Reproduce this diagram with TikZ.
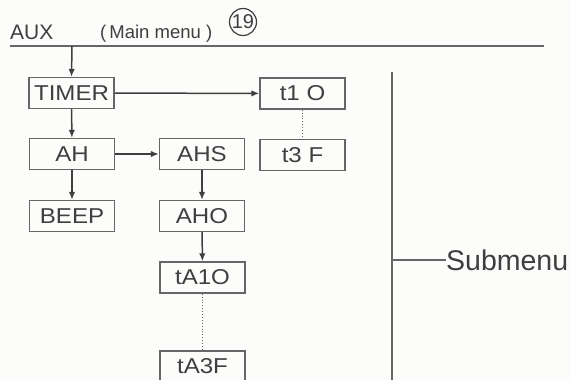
\documentclass[tikz,border=0pt]{standalone}
\usepackage{fontspec}
\setmainfont{Liberation Sans}
\newfontfamily\boxfont[FakeStretch=1.12]{Liberation Sans}
\usetikzlibrary{arrows.meta}
\definecolor{linegray}{HTML}{666666}
\definecolor{txtgray}{HTML}{3F3F3F}
\definecolor{bg}{HTML}{FCFCFA}
\tikzset{
  menubox/.style={draw=linegray, line width=1.4pt, minimum width=85pt, minimum height=31pt, inner sep=0pt, text=txtgray, font=\boxfont\fontsize{21.5}{21.5}\selectfont},
  conn/.style={draw=txtgray, line width=1.5pt, -{Latex[length=8pt,width=6.5pt]}},
  dotconn/.style={draw=linegray, line width=0.9pt, dotted},
  rule/.style={draw=linegray, line width=2.2pt},
  lbl/.style={text=txtgray, inner sep=0pt}
}
\begin{document}
\begin{tikzpicture}[x=1pt,y=-1pt]
\fill[bg] (0,0) rectangle (571,380);
\useasboundingbox (0,0) rectangle (571,380);
% header
\node[lbl, anchor=base west, font=\fontsize{21}{21}\selectfont] (aux) at (10,39) {AUX};
\node[lbl, anchor=base west, font=\fontsize{18.5}{18.5}\selectfont] (mm) at (100,38) {(\,Main menu )};
\node[lbl, draw=txtgray, line width=1.2pt, circle, minimum size=27pt, font=\fontsize{20}{20}\selectfont] (num) at (243,22) {19};
\coordinate (hl) at (10,46);
\coordinate (hr) at (544,46);
\draw[rule] (hl) -- (hr);
\coordinate (tap) at (72,46);
% boxes
\node[menubox] (timer) at (71.5,93) {TIMER};
\node[menubox] (ah) at (72,154) {AH};
\node[menubox] (beep) at (72,216) {BEEP};
\node[menubox] (ahs) at (202,154) {AHS};
\node[menubox] (aho) at (202,216) {AHO};
\node[menubox] (ta1o) at (202.5,277.5) {tA1O};
\node[menubox] (ta3f) at (202.5,366.5) {tA3F};
\node[menubox] (t1o) at (302.5,93.5) {t1 O};
\node[menubox] (t3f) at (302.5,155) {t3 F};
% connectors
\draw[conn] (tap) -- (timer.north);
\draw[conn] (timer) -- (ah);
\draw[conn] (ah) -- (beep);
\draw[conn] (ah) -- (ahs);
\draw[conn] (ahs) -- (aho);
\draw[conn] (aho) -- (ta1o);
\draw[conn] (timer) -- (t1o);
\draw[dotconn] (t1o) -- (t3f);
\draw[dotconn] (ta1o) -- (ta3f);
% submenu
\coordinate (vt) at (392,72);
\coordinate (vb) at (392,380);
\coordinate (vm) at (392,260);
\draw[rule] (vt) -- (vb);
\node[lbl, anchor=west, font=\fontsize{28.5}{28.5}\selectfont] (sub) at (446,260) {Submenu};
\draw[linegray, line width=1.6pt] (vm) -- (sub.west);
\end{tikzpicture}
\end{document}
